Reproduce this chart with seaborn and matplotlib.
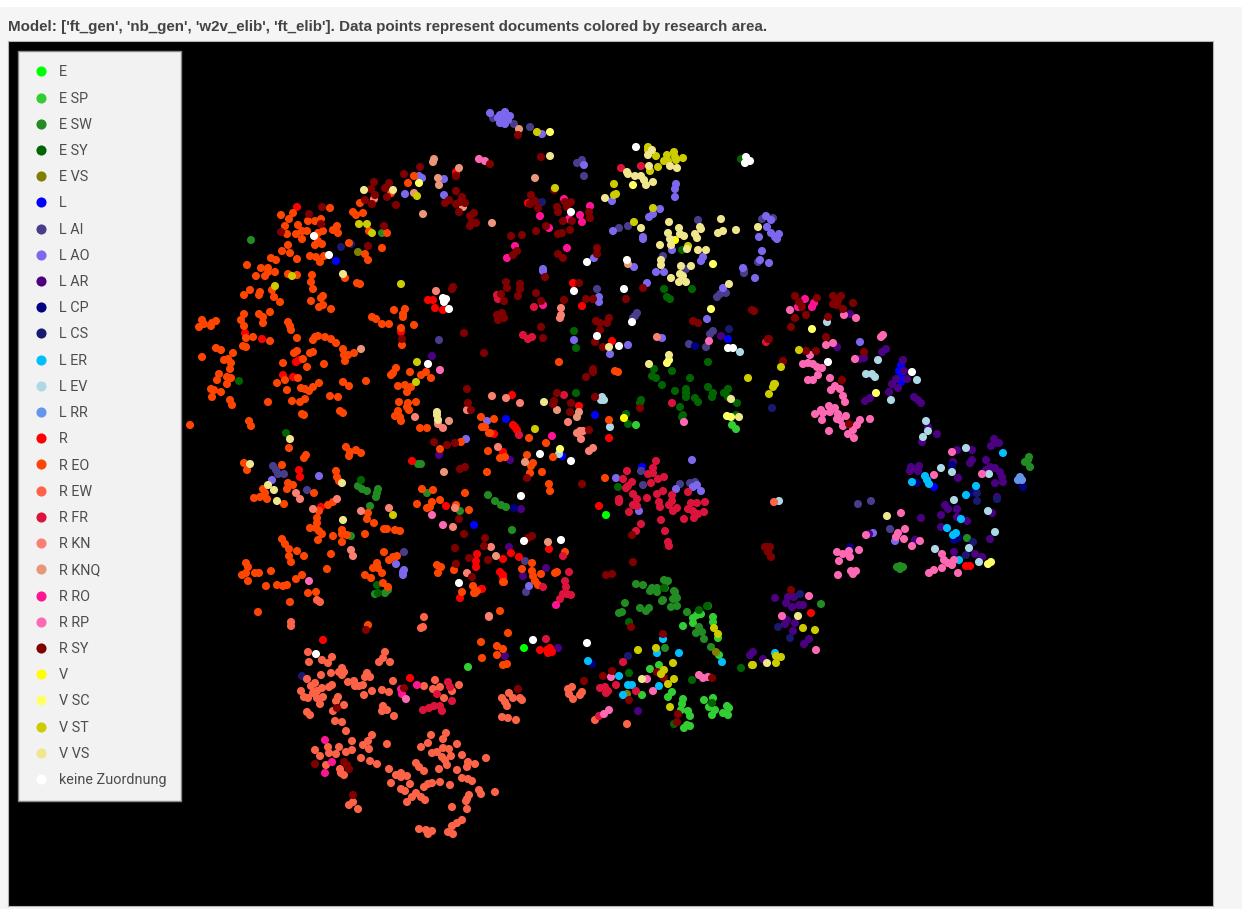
import pandas as pd
import seaborn as sns
import matplotlib.pyplot as plt
from matplotlib.patches import Rectangle

# document positions, one list per research area
e = [(606,515),(524,648)]
e_sp = [(636,425),(732,425),(736,429),(693,618),(697,615),(701,614),(693,623),(683,626),(713,617),(713,622),(718,638),(719,655),(659,665),(650,669),(642,695),(672,692),(668,697),(683,699),(682,704),(681,710),(688,711),(690,716),(687,725),(684,728),(690,726),(704,700),(713,698),(709,707),(715,710),(712,715),(727,706),(729,708),(723,713),(728,715),(468,667)]
e_sw = [(512,530),(488,495),(495,501),(501,505),(506,507),(418,464),(421,464),(251,240),(382,233),(358,486),(362,489),(367,491),(378,489),(377,493),(376,497),(370,506),(351,536),(427,493),(460,511),(375,594),(385,593),(388,590),(636,584),(643,585),(664,580),(668,581),(652,588),(650,591),(657,588),(657,592),(665,588),(675,592),(676,597),(673,599),(662,601),(625,603),(640,608),(649,608),(646,611),(671,607),(677,606),(687,612),(708,606),(622,612),(619,613),(663,600),(677,598),(674,591),(696,633),(702,632),(699,627),(704,639),(711,647),(665,648),(821,604),(900,566),(897,567),(903,567),(900,569),(967,538),(1029,457),(1025,462),(1028,460),(1030,467)]
e_sy = [(708,362),(654,369),(672,371),(652,376),(656,378),(690,378),(662,385),(675,391),(686,389),(686,393),(686,397),(708,387),(695,398),(698,402),(713,393),(712,397),(728,389),(724,393),(728,397),(737,403),(680,407),(641,400),(640,403),(683,415),(682,417),(736,415),(628,424),(626,414),(576,393),(576,348),(618,487),(574,331),(664,289),(692,289),(667,297),(670,299),(682,250),(741,159),(239,381),(286,433),(361,480),(377,585),(378,593),(707,606),(699,610),(664,588),(629,622),(629,673),(692,680),(741,668),(712,703),(674,724)]
e_vs = [(358,252),(716,652),(627,694)]
l = [(336,261),(728,339),(506,419),(595,415),(642,467),(562,456),(474,525),(901,365),(899,371),(901,377),(901,382),(934,487)]
l_ai = [(439,340),(493,118),(514,124),(530,127),(577,163),(582,160),(584,176),(698,220),(628,226),(619,228),(597,289),(686,269),(663,256),(744,273),(744,270),(717,297),(720,294),(726,293),(762,219),(773,218),(758,262),(635,316),(637,313),(633,318),(689,344),(706,347),(713,331),(710,334),(273,466),(276,470),(278,474),(284,474),(307,490),(404,552),(641,471),(643,485),(680,484),(690,483),(695,482),(525,561),(526,592),(858,504),(871,501),(890,529)]
l_ao = [(490,113),(500,115),(505,112),(510,116),(498,118),(503,118),(508,120),(500,123),(505,124),(502,121),(542,134),(584,165),(676,184),(675,189),(675,197),(612,201),(660,209),(653,214),(649,217),(613,231),(643,237),(643,239),(672,250),(703,257),(701,261),(594,258),(634,267),(543,269),(543,271),(656,272),(664,272),(647,283),(599,297),(599,302),(723,288),(707,319),(766,216),(771,220),(767,227),(759,237),(771,233),(779,234),(775,237),(777,239),(762,251),(760,260),(769,263),(743,268),(755,278),(574,340),(628,345),(662,338),(419,176),(422,178),(444,179),(405,194),(444,195),(319,476),(272,480),(396,564),(403,572),(404,570),(403,575),(466,439),(487,421),(610,354),(616,478),(639,511),(692,460),(676,489),(693,487),(697,485),(701,491),(529,586),(860,342),(873,533),(895,541)]
l_ar = [(721,336),(432,356),(439,455),(510,460),(521,509),(546,568),(523,576),(509,547),(850,314),(837,347),(882,352),(886,349),(864,358),(859,359),(903,360),(904,371),(896,379),(907,379),(892,384),(898,388),(889,392),(870,398),(865,401),(914,397),(918,400),(921,403),(928,427),(937,434),(922,442),(994,439),(991,446),(995,443),(999,443),(957,450),(972,450),(972,460),(970,463),(986,460),(953,462),(995,468),(990,467),(986,470),(1000,472),(1002,477),(1003,482),(995,483),(911,467),(919,466),(910,471),(918,471),(958,478),(945,505),(948,509),(957,509),(941,515),(921,518),(957,517),(967,521),(992,513),(997,497),(941,527),(990,539),(915,540),(869,534),(954,552),(975,554),(982,557),(775,598),(788,597),(794,597),(786,603),(799,605),(803,605),(792,607),(787,620),(785,624),(795,623),(793,631),(809,639),(804,644),(753,652),(750,655),(763,659),(638,711),(558,648),(505,656)]
l_cp = [(1023,487),(954,540),(958,538),(850,547),(952,465),(973,493),(917,483),(592,664),(695,346),(514,508)]
l_cs = [(341,247),(351,244),(542,202),(772,408),(977,493),(977,501),(997,499),(966,555),(800,594),(973,542),(628,656),(778,627),(790,638),(302,676),(729,329)]
l_er = [(1003,453),(925,476),(927,480),(929,484),(912,482),(976,486),(966,495),(961,519),(947,528),(956,533),(953,535),(959,560),(588,661),(663,639),(657,653),(679,653),(722,662),(619,676),(628,685),(632,685),(659,686),(623,695),(775,653)]
l_ev = [(827,322),(878,360),(866,374),(872,374),(875,377),(917,380),(891,400),(926,421),(928,431),(923,437),(966,448),(941,468),(952,472),(989,474),(954,500),(988,511),(995,532),(935,549),(969,548),(979,562),(779,501),(602,397),(604,400),(601,400),(610,427),(559,454),(740,352)]
l_rr = [(1020,477),(1018,480),(1022,480)]
r = [(297,207),(245,333),(262,339),(401,332),(428,300),(433,300),(435,308),(443,310),(456,172),(528,203),(573,283),(582,306),(612,341),(283,375),(293,377),(296,362),(299,360),(299,470),(300,477),(321,507),(412,461),(446,506),(477,554),(476,561),(476,567),(503,559),(494,434),(503,452),(500,572),(503,575),(481,589),(460,598),(512,395),(579,406),(513,425),(515,427),(517,430),(609,438),(599,506),(511,553),(519,557),(549,549),(503,577),(482,589),(540,650),(547,650),(550,648),(548,653),(552,652),(811,613),(966,566),(970,566),(323,640),(410,678)]
r_eo = [(281,215),(293,213),(289,219),(285,226),(298,225),(308,221),(315,221),(321,219),(330,208),(302,231),(307,231),(296,234),(287,234),(302,239),(315,245),(322,244),(318,241),(323,231),(318,233),(337,226),(333,230),(338,233),(288,245),(282,251),(290,253),(297,259),(271,258),(276,260),(310,256),(316,257),(324,256),(320,262),(349,243),(365,254),(368,260),(382,248),(387,233),(369,231),(353,212),(356,215),(363,213),(360,203),(391,193),(408,183),(414,176),
        (247,265),(261,268),(268,268),(268,272),(275,272),(256,276),(265,276),(288,274),(297,275),(312,275),(311,282),(313,289),(345,278),(357,283),(360,284),(250,290),(260,292),(259,295),(244,295),(272,290),(274,297),(280,302),(323,296),(321,298),(311,301),(323,305),(319,307),(331,309),(394,310),(405,309),(403,314),(403,317),(414,325),(372,317),(376,319),(382,324),(389,324),(401,328),(402,345),
        (244,314),(259,314),(263,317),(270,312),(241,320),(244,326),(263,323),(202,320),(199,327),(204,324),(211,326),(212,323),(216,321),(288,322),(290,326),(291,330),(253,337),(246,338),(270,341),(297,338),(315,337),(313,340),(318,336),(325,337),(331,339),(336,343),(216,348),(221,350),(243,346),(246,347),
        (202,357),(233,353),(224,360),(228,359),(231,363),(230,369),(219,374),(217,380),(227,377),(231,378),(227,384),(211,389),(214,390),(221,392),(212,397),(230,400),(232,405),(190,425),(249,421),(251,426),(268,402),(277,383),(285,380),(283,363),(294,353),(297,351),(303,359),(307,367),(310,353),(313,352),(324,364),(298,378),(287,390),(301,388),(305,389),(309,391),(313,387),(319,383),(292,401),(300,402),(305,399),(330,396),(338,397),(343,382),(349,386),(366,381),(302,414),(304,415),(340,411),(343,413),(343,349),(344,355),(348,355),(354,353),(345,361),
        (396,368),(393,373),(391,375),(410,372),(421,375),(426,372),(431,378),(398,386),(405,385),(411,387),(407,392),(399,402),(408,403),(416,402),(407,407),(409,410),(398,411),(395,416),(400,417),(401,421),(420,428),(427,428),
        (289,448),(306,455),(304,458),(282,465),(244,463),(247,470),(346,447),(350,452),(349,456),(356,450),(361,453),(336,471),(337,477),(339,481),(288,483),(293,485),(287,489),(314,493),(263,489),(265,493),(260,497),(254,498),(267,499),(284,504),(328,505),(333,502),(319,511),(317,518),(317,523),(310,528),(316,528),(319,531),(322,534),(342,530),(342,534),(347,535),(333,536),(318,540),(342,542),(365,534),(368,513),(367,519),(374,523),(384,529),(387,529),(395,530),(400,531),(282,539),(285,544),(289,549),(297,551),(289,556),(304,556),(291,562),(331,554),(327,569),(246,563),(248,567),(242,575),(246,573),(248,581),(255,573),(259,573),(271,571),(302,575),(296,579),(266,586),(277,585),(283,586),(287,585),(308,593),(316,592),(290,602),(258,612),(384,552),(389,560),(397,556),(393,557),(377,563),(373,568),(378,568),(382,573),(365,575),(371,578),(383,583),(388,587),
        (422,489),(433,490),(417,504),(432,502),(430,507),(427,508),(440,500),(456,505),(465,493),(469,510),(440,449),(461,442),(488,451),(487,472),(481,417),(494,419),(482,427),(485,427),(490,433),(505,457),(500,458),(437,565),(441,567),(438,573),(454,570),(473,586),(477,591),(474,593),(462,592),(503,582),(500,611),(368,625),
        (559,362),(615,371),(618,372),(483,427),(489,433),(529,438),(546,443),(527,455),(553,457),(533,463),(531,466),(530,473),(542,472),(549,484),(550,491),(605,478),(609,420),(532,563),(522,569),(532,571),(533,576),(541,574),(535,581),(538,585),(504,582),(557,572),(555,573),(565,552),
        (508,633),(481,642),(497,646),(503,649),(497,655),(482,658),(503,665),(507,664),(475,593)]
r_ew = [(291,622),(291,626),(424,617),(423,627),(421,628),(489,617),(317,600),(320,602),(774,502),
        (308,652),(332,657),(322,660),(328,663),(309,662),(385,652),(383,658),(379,662),(390,662),(342,668),(339,672),(344,672),(342,675),(331,673),(321,675),(367,673),(365,677),(370,677),(307,679),(315,683),(311,686),(332,685),(329,687),(348,682),(354,681),(355,686),(359,686),(363,685),(393,681),(382,690),(389,692),(372,691),(364,695),(322,688),(317,691),(313,693),(301,691),(304,697),(308,698),(317,698),(323,697),(320,704),(338,697),(336,701),(344,705),(333,711),(307,712),(310,715),(383,706),(382,711),(387,710),(394,716),(335,721),(342,722),(346,731),(424,686),(435,680),(433,689),(440,687),(444,698),(459,685),(452,691),
        (372,735),(368,741),(352,741),(363,745),(369,749),(387,744),(339,747),(328,747),(315,750),(329,753),(320,756),(336,754),(346,752),(352,750),(361,758),(370,761),(377,764),(326,765),(340,769),(341,773),(344,775),(389,769),(416,763),(419,767),(424,771),(431,735),(446,733),(443,739),(428,743),(421,747),(457,744),(443,748),(449,749),(437,752),(432,753),(462,755),(451,756),(442,757),(445,760),(447,765),(439,769),(457,770),(468,762),(467,767),(475,764),(486,758),(462,778),(468,779),(472,781),(396,775),(401,773),(401,777),(407,776),(391,783),(410,784),(401,789),(405,791),(440,782),(432,783),(428,784),(424,787),(450,785),(479,790),(481,794),(495,792),(416,793),(412,797),(421,797),(425,800),(407,802),(469,795),(467,799),(466,801),(452,807),(467,809),(462,820),(457,823),(452,826),(419,829),(426,830),(432,831),(428,834),(448,832),(453,834),(349,805),(353,802),(358,809),
        (509,693),(502,698),(513,698),(505,702),(507,706),(520,698),(522,700),(502,717),(508,718),(516,720),(572,687),(568,689),(569,694),(573,699),(582,692),(580,695),(595,720),(627,724)]
r_fr = [(656,461),(653,468),(648,474),(653,473),(627,471),(623,479),(632,482),(628,486),(626,488),(651,483),(658,479),(664,477),(663,491),(657,494),(633,494),(637,499),(647,498),(619,499),(619,502),(633,505),(637,506),(629,512),(659,502),(660,507),(672,495),(672,501),(669,505),(677,508),(673,511),(688,492),(691,503),(688,509),(693,511),(697,503),(705,502),(704,512),(698,514),(694,518),(684,519),(661,520),(641,524),(636,531),(665,531),(668,542),(669,546),(519,435),(672,403),(564,395),
        (569,572),(565,581),(566,587),(563,594),(567,594),(571,595),(560,599),(543,587),(563,556),(546,639),(623,662),(616,685),(600,688),(605,687),(608,691),(606,693),(636,691),(599,716),
        (448,682),(450,687),(437,694),(452,701),(423,710),(434,706),(440,706),(442,711),(429,708),(621,168),(641,166),(534,307),(523,335),(528,339),(532,337),(497,295),(498,299),(766,342)]
r_kn = [(374,199),(436,291),(657,337),(561,308),(561,315),(560,318),(492,396),(506,398),(467,410),(415,417),(438,424),(443,428),(498,447),(337,499),(313,509),(361,511),(389,508),(453,527),(455,508),(491,547),(467,573),(351,550),(353,556),(296,493),(300,499),(520,403),(568,422),(580,431),(577,433),(583,431),(581,439),(589,451),(593,448),(489,616)]
r_knq = [(434,159),(433,162),(459,168),(438,178),(439,185),(414,193),(423,214),(463,207),(492,223),(519,129),(535,178),(628,264),(449,421),(444,472),(496,556),(361,349),(557,410),(577,417),(579,412),(525,462),(548,542)]
r_ro = [(590,206),(564,199),(540,216),(580,215),(582,222),(569,219),(549,228),(515,246),(507,258),(567,248),(543,305),(805,299),(798,307),(814,303),(812,307),(552,436),(556,605),(325,740),(332,762),(325,773),(417,685),(401,689),(402,694)]
r_rp = [(479,159),(485,161),(709,341),(790,310),(684,422),(440,370),(432,515),(443,525),(309,581),(844,315),(856,318),(883,335),(881,337),(826,345),(833,343),(810,355),(855,359),(803,364),(808,363),(813,364),(817,367),(822,368),(818,375),(808,380),(813,380),(830,378),(831,390),(835,386),(840,389),(843,396),(845,402),(829,406),(835,408),(821,410),(823,413),(815,414),(830,412),(838,414),(846,416),(822,420),(837,419),(840,420),(860,420),(870,419),(857,425),(843,426),(853,430),(829,431),(848,434),(854,438),
        (952,452),(934,475),(982,474),(901,513),(905,529),(898,533),(896,537),(904,539),(866,535),(912,546),(920,541),(837,552),(843,554),(849,551),(850,557),(859,550),(839,561),(838,575),(851,571),(856,571),(853,574),(942,554),(944,560),(948,563),(952,565),(954,560),(942,568),(934,570),(929,573),(958,573),(809,596),(782,616),(816,650),(699,675),(703,678),(708,677),(611,677),(647,679),(653,691),(609,710),(604,714),(406,699)]
r_sy = [(490,164),(420,167),(404,174),(456,176),(374,182),(389,183),(371,189),(385,188),(375,195),(387,197),(365,200),(372,204),(396,205),(456,191),(462,197),(449,200),(445,203),(460,202),(465,203),(456,204),(459,212),(474,213),(470,216),(472,222),(476,223),(470,226),(322,207),(309,214),(321,224),(281,232),(384,226),(368,246),(453,287),(452,289),(464,333),(402,339),
        (518,135),(541,157),(554,190),(531,195),(535,201),(530,204),(538,208),(565,202),(571,202),(567,207),(557,207),(558,212),(589,212),(590,218),(563,221),(572,221),(546,226),(536,231),(511,236),(522,235),(558,234),(562,233),(570,230),(517,251),(513,255),(558,254),(597,248),(597,254),(563,258),(545,277),(579,283),(506,282),(507,288),(520,284),(520,289),(501,294),(518,296),(504,301),(536,293),(541,301),(564,300),(586,299),(593,299),(497,315),(502,313),(504,318),(498,320),(541,327),(543,338),(596,321),(600,323),(607,323),(609,318),(600,330),(595,342),(603,347),(643,288),(626,299),(693,321),(698,323),(752,310),(754,311),(769,339),
        (795,296),(817,298),(833,296),(841,296),(799,302),(802,307),(838,301),(833,304),(837,305),(853,303),(843,309),(806,315),(795,318),(828,317),(791,327),(768,339),(826,337),(806,351),(816,351),(864,352),(783,361),(842,380),(849,424),(765,547),(770,547),(768,552),(771,557),(791,590),
        (484,353),(467,389),(468,403),(471,410),(434,442),(447,445),(455,443),(460,469),(465,467),(459,519),(464,534),(485,538),(484,546),(455,548),(469,558),(488,560),(456,564),(472,577),(366,630),
        (586,377),(593,369),(593,372),(557,393),(554,401),(553,404),(571,403),(570,412),(595,397),(640,408),(589,430),(582,484),(527,478),(632,535),(532,536),(528,538),(606,575),(612,574),(633,562),(767,547),
        (518,689),(584,681),(612,671),(603,676),(629,700),(631,627),(663,634),(657,672),(664,678),(712,678),(678,714),(677,722),(404,688),(337,708),(315,764),(344,762),(347,765),(349,769),(353,795)]
v = [(624,418),(675,240)]
v_sc = [(550,132),(633,185),(713,264),(711,309),(419,183),(812,329),(876,393),(988,564),(991,562),(667,363),(669,360),(560,449),(727,416),(731,417)]
v_st = [(537,132),(555,188),(648,147),(648,150),(656,156),(667,155),(674,152),(675,157),(664,161),(668,161),(676,160),(683,158),(658,167),(650,171),(614,184),(616,194),(614,195),(653,208),(634,222),(688,246),(359,224),(367,224),(372,233),(417,196),(275,286),(292,276),(401,284),(417,362),(416,382),(393,515),(535,429),(748,378),(769,394),(773,387),(775,384),(799,350),(781,367),(774,384),(638,650),(656,648),(673,663),(664,670),(661,674),(674,679),(668,684),(670,707),(714,628),(718,634),(803,628),(815,630),(752,665),(753,665),(776,656),(781,657),(776,663)]
v_vs = [(364,190),(393,190),(343,274),(550,156),(652,150),(648,155),(649,166),(670,166),(677,168),(627,172),(628,174),(635,176),(641,176),(644,180),(646,185),(653,182),(605,198),(669,222),(641,228),(679,228),(700,227),(701,229),(668,233),(680,234),(684,236),(695,234),(697,238),(721,219),(718,233),(723,231),(736,230),(758,227),(670,239),(660,245),(671,245),(687,249),(698,250),(706,250),(661,260),(661,265),(681,266),(691,266),(680,274),(683,276),(671,278),(679,282),(686,282),(729,284),(609,347),(250,464),(290,439),(268,485),(274,490),(277,501),(342,483),(343,520),(437,412),(437,415),(438,420),(544,402),(649,364),(669,355),(731,399),(739,417),(642,679),(798,616),(767,663),(887,516)]
keine = [(636,147),(746,157),(745,163),(750,161),(571,212),(587,262),(627,260),(574,291),(624,289),(632,322),(597,336),(619,346),(728,348),(733,348),(314,236),(329,255),(443,298),(446,299),(444,302),(449,309),(428,364),(459,583),(540,454),(571,461),(521,496),(524,541),(561,540),(828,362),(912,372),(587,643),(533,640),(316,654)]

areas = ["E", "E SP", "E SW", "E SY", "E VS", "L", "L AI", "L AO", "L AR", "L CP", "L CS",
         "L ER", "L EV", "L RR", "R", "R EO", "R EW", "R FR", "R KN", "R KNQ", "R RO", "R RP",
         "R SY", "V", "V SC", "V ST", "V VS", "keine Zuordnung"]
punkte = [e, e_sp, e_sw, e_sy, e_vs, l, l_ai, l_ao, l_ar, l_cp, l_cs, l_er, l_ev, l_rr, r, r_eo,
          r_ew, r_fr, r_kn, r_knq, r_ro, r_rp, r_sy, v, v_sc, v_st, v_vs, keine]
farben = ["#00ff00", "#32cd32", "#228b22", "#006400", "#808000", "#0000ff", "#483d8b", "#7b68ee",
          "#4b0082", "#000080", "#191970", "#00bfff", "#add8e6", "#6495ed", "#ff0000", "#ff4500",
          "#ff6347", "#dc143c", "#fa8072", "#e9967a", "#ff1493", "#ff69b4", "#800000", "#ffff00",
          "#ffff66", "#cccc00", "#f0e68c", "#ffffff"]

df = pd.concat([pd.DataFrame(p, columns=["x", "y"]).assign(area=a) for a, p in zip(areas, punkte)])

W, H = 1242, 909
sns.set_style("white")
plt.rcParams["font.family"] = ["Roboto", "DejaVu Sans"]

fig = plt.figure(figsize=(W / 100, H / 100), dpi=100, facecolor="#f5f5f5")
# white strip above the grey page
fig.patches.append(Rectangle((0, 1 - 6 / H), 1, 6 / H, transform=fig.transFigure, color="white", zorder=-1))

ax = fig.add_axes([8 / W, 1 - 906 / H, 1205 / W, 865 / H], facecolor="black")
sns.scatterplot(data=df, x="x", y="y", hue="area", hue_order=areas, palette=dict(zip(areas, farben)),
                s=34, linewidth=0, alpha=1, ax=ax)

ax.set_xlim(8, 1213)
ax.set_ylim(906, 41)
ax.set_xticks([])
ax.set_yticks([])
ax.set_xlabel("")
ax.set_ylabel("")
for sp in ax.spines.values():
    sp.set_color("#b4b4b4")
    sp.set_linewidth(0.8)

sns.move_legend(ax, "upper left", bbox_to_anchor=(10 / 1205, 1 - 10 / 865), borderaxespad=0,
                title=None, frameon=True, fontsize=10.4, labelspacing=0.845, markerscale=1.25,
                handlelength=1.2, handletextpad=0.65, borderpad=1.0, facecolor="#f2f2f2",
                edgecolor="#8a8a8a", framealpha=1, fancybox=False)
for t in ax.get_legend().get_texts():
    t.set_color("#4d4d4d")

fig.text(8 / W, 1 - 31 / H, "Model: ['ft_gen', 'nb_gen', 'w2v_elib', 'ft_elib']. Data points represent documents colored by research area.",
         family="Liberation Sans", weight="bold", fontsize=10.9, color="#444444")

fig.savefig("out.png", dpi=100, facecolor=fig.get_facecolor())
